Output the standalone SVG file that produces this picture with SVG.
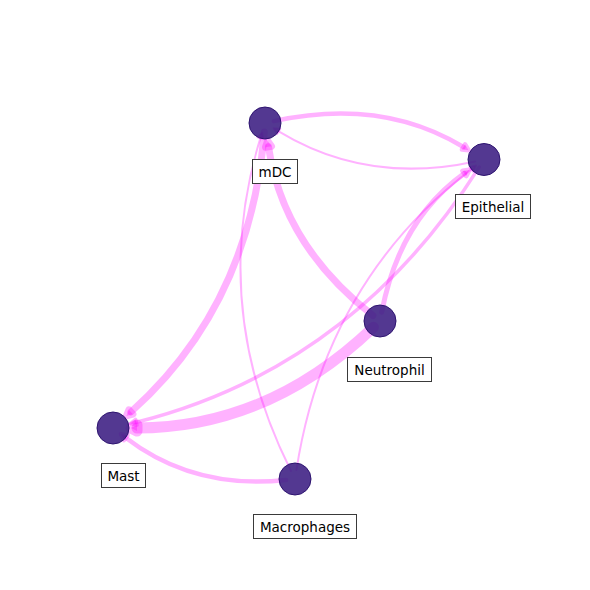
<svg xmlns="http://www.w3.org/2000/svg" width="590" height="590" viewBox="0 0 590 590">
<style>
.e{fill:none;stroke:#ff00ff;stroke-opacity:0.3;stroke-linecap:round}
.h{fill:#ff00ff;fill-opacity:0.3;stroke:#ff00ff;stroke-opacity:0.3;stroke-linejoin:round}
.n{fill:#3b1c82;fill-opacity:0.88;stroke:#2e1470;stroke-width:1}
.b{fill:#ffffff;stroke:#3a3a3a;stroke-width:1}
.t{font-family:"DejaVu Sans","Liberation Sans",sans-serif;font-size:13.5px;fill:#000000;text-anchor:middle}
</style>
<rect width="590" height="590" fill="#ffffff"/>
<g id="connectors">
  <g id="e-mDC-Epithelial">
    <path class="e" stroke-width="4.5" d="M273.8,121.1 Q381.8,97.45 463.5,147.0"/>
    <polygon class="h" stroke-width="4.5" points="468.6,150.2 461.9,149.6 465.1,144.4"/>
  </g>
  <g id="e-Epithelial-mDC">
    <path class="e" stroke-width="2" d="M475.2,161.4 Q367.2,185.05 278.7,131.3"/>
    <polygon class="h" stroke-width="2" points="273.6,128.2 280.3,128.7 277.1,133.9"/>
  </g>
  <g id="e-mDC-Mast">
    <path class="e" stroke-width="7" d="M264.3,132.0 Q250,305.9 130.9,412.0"/>
    <polygon class="h" stroke-width="7" points="126.4,416.0 128.9,409.8 132.9,414.2"/>
  </g>
  <g id="e-Neutrophil-mDC">
    <path class="e" stroke-width="7" d="M372.9,315.5 Q282.9,245 268.5,146.7"/>
    <polygon class="h" stroke-width="7" points="267.6,140.8 271.5,146.3 265.5,147.2"/>
  </g>
  <g id="e-Macrophages-mDC">
    <path class="e" stroke-width="2" d="M291.0,471.0 Q208.8,307 260.3,138.3"/>
    <polygon class="h" stroke-width="2" points="262.1,132.6 263.2,139.2 257.4,137.4"/>
  </g>
  <g id="e-Neutrophil-Epithelial">
    <path class="e" stroke-width="5" d="M381.7,312.2 Q399.7,219.45 464.4,173.4"/>
    <polygon class="h" stroke-width="5" points="469.3,169.9 466.2,175.9 462.7,171.0"/>
  </g>
  <g id="e-Epithelial-Mast">
    <path class="e" stroke-width="3.5" d="M479.2,167.1 Q352.2,367.95 136.3,422.2"/>
    <polygon class="h" stroke-width="3.5" points="130.5,423.6 135.6,419.3 137.0,425.1"/>
  </g>
  <g id="e-Neutrophil-Mast">
    <path class="e" stroke-width="11" d="M373.5,327.2 Q267.9,427.9 137,428"/>
    <polygon class="h" stroke-width="11" points="131,428 137,425 137,431"/>
  </g>
  <g id="e-Macrophages-Epithelial">
    <path class="e" stroke-width="2" d="M296.4,470.1 Q325.6,281.45 471.3,169.3"/>
    <polygon class="h" stroke-width="2" points="476.1,165.6 473.1,171.7 469.5,166.9"/>
  </g>
  <g id="e-Macrophages-Mast">
    <path class="e" stroke-width="4.5" d="M286.1,480.0 Q193.8,489.9 125.7,437.7"/>
    <polygon class="h" stroke-width="4.5" points="120.9,434.1 127.5,435.3 123.9,440.1"/>
  </g>
</g>
<g id="node-mDC">
  <circle class="n" cx="265" cy="123" r="16"/>
  <rect class="b" x="252.5" y="159.5" width="45" height="24"/>
  <text class="t" x="275" y="176.5">mDC</text>
</g>
<g id="node-Epithelial">
  <circle class="n" cx="484" cy="159.5" r="16"/>
  <rect class="b" x="455.5" y="194.5" width="75" height="24"/>
  <text class="t" x="493" y="211.5">Epithelial</text>
</g>
<g id="node-Neutrophil">
  <circle class="n" cx="380" cy="321" r="16"/>
  <rect class="b" x="347.5" y="357.5" width="84" height="24"/>
  <text class="t" x="389.5" y="374.5">Neutrophil</text>
</g>
<g id="node-Mast">
  <circle class="n" cx="113" cy="428" r="16"/>
  <rect class="b" x="101.5" y="463.5" width="44" height="24"/>
  <text class="t" x="123.5" y="480.5">Mast</text>
</g>
<g id="node-Macrophages">
  <circle class="n" cx="295" cy="479" r="16"/>
  <rect class="b" x="253.5" y="514.5" width="103" height="24"/>
  <text class="t" x="305" y="532">Macrophages</text>
</g>
</svg>
